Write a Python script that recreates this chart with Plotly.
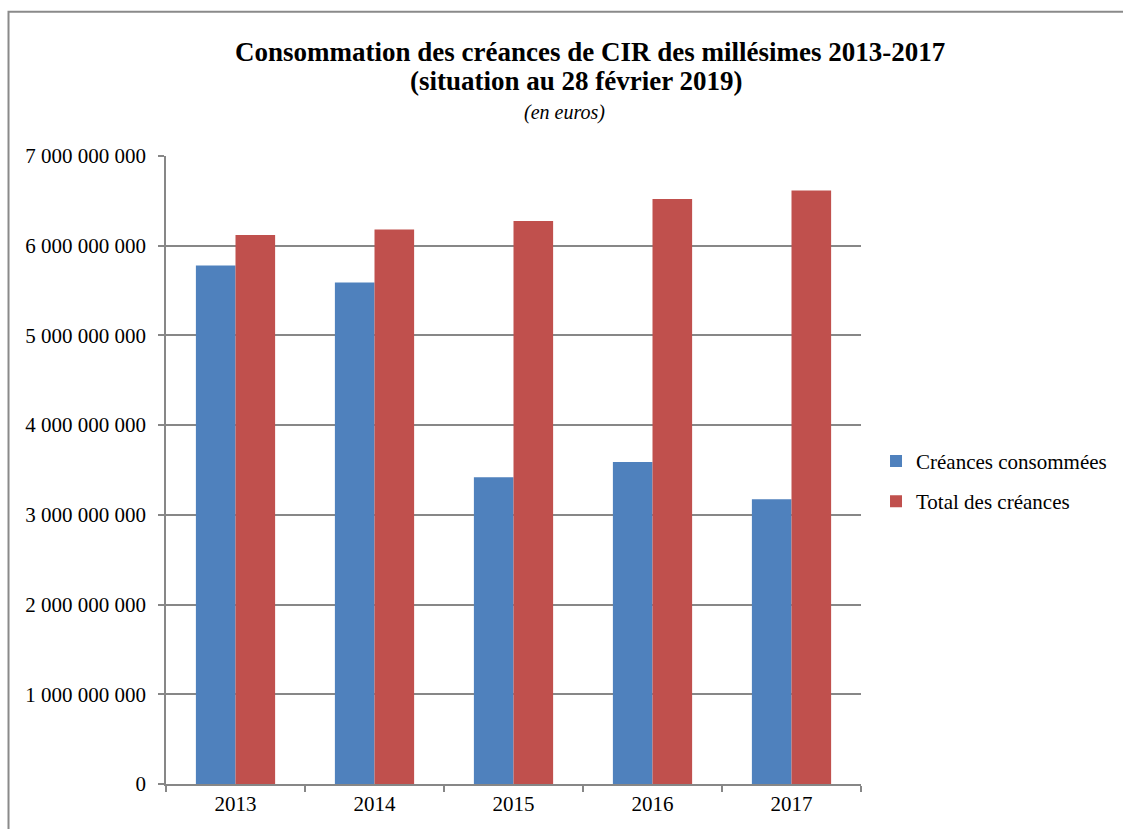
import plotly.graph_objects as go

# Millésimes and amounts (euros)
years = ["2013", "2014", "2015", "2016", "2017"]
creances_consommees = [5.78e9, 5.59e9, 3.42e9, 3.59e9, 3.175e9]
total_creances = [6.12e9, 6.18e9, 6.275e9, 6.52e9, 6.615e9]

y_tick_values = [0, 1e9, 2e9, 3e9, 4e9, 5e9, 6e9, 7e9]
y_tick_labels = ["0", "1 000 000 000", "2 000 000 000", "3 000 000 000",
                 "4 000 000 000", "5 000 000 000", "6 000 000 000", "7 000 000 000"]

FONT = "Liberation Serif"
GRID = "#878787"
TXT = 21

fig = go.Figure()
fig.add_trace(go.Bar(name="Créances consommées", x=years, y=creances_consommees,
                     legendgroup="conso",
                     marker=dict(color="#4F81BD", line=dict(width=0))))
fig.add_trace(go.Bar(name="Total des créances", x=years, y=total_creances,
                     legendgroup="total",
                     marker=dict(color="#C0504D", line=dict(width=0))))

fig.update_layout(
    width=1123, height=829,
    margin=dict(l=166, r=262, t=156, b=45, autoexpand=False),
    paper_bgcolor="white", plot_bgcolor="white",
    barmode="group", bargap=0.43, bargroupgap=0,
    font=dict(family=FONT, size=TXT, color="black"),
    showlegend=True,
    legend=dict(x=1.0216, y=0.482, xanchor="left", yanchor="middle",
                font=dict(family=FONT, size=TXT), itemwidth=30,
                tracegroupgap=10, bgcolor="rgba(0,0,0,0)"),
    xaxis=dict(showline=True, linecolor=GRID, linewidth=1.5,
               ticks="outside", tickson="boundaries", ticklen=6, tickcolor=GRID,
               tickwidth=1.5, tickfont=dict(family=FONT, size=TXT),
               showgrid=False),
    yaxis=dict(range=[0, 7e9], tickvals=y_tick_values, ticktext=y_tick_labels,
               showline=True, linecolor=GRID, linewidth=1.5,
               ticks="outside", ticklen=6, tickcolor=GRID, tickwidth=1.5,
               showgrid=True, gridcolor=GRID, gridwidth=1.5,
               zeroline=False, tickfont=dict(family=FONT, size=TXT),
               ticklabelstandoff=8),
)

# Title block
fig.add_annotation(text="<b>Consommation des créances de CIR des millésimes 2013-2017</b>",
                   xref="paper", yref="paper", x=0.61, y=1.166, yanchor="middle",
                   showarrow=False, font=dict(family=FONT, size=27))
fig.add_annotation(text="<b>(situation au 28 février 2019)</b>",
                   xref="paper", yref="paper", x=0.59, y=1.119, yanchor="middle",
                   showarrow=False, font=dict(family=FONT, size=27))
fig.add_annotation(text="<i>(en euros)</i>",
                   xref="paper", yref="paper", x=0.573, y=1.069, yanchor="middle",
                   showarrow=False, font=dict(family=FONT, size=20))

# Chart frame
fig.add_shape(type="rect", xref="paper", yref="paper",
              x0=-0.2266, y0=-0.3, x1=1.5, y1=1.2298,
              line=dict(color="#8A8A8A", width=2), layer="below")

fig.write_html("out.html")
